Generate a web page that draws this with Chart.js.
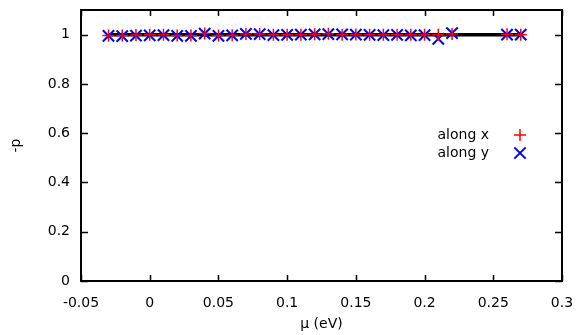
<!DOCTYPE html>
<html>
<head>
<meta charset="utf-8">
<script src="https://cdn.jsdelivr.net/npm/chart.js@4.4.1/dist/chart.umd.min.js"></script>
<style>
  html, body { margin: 0; padding: 0; background: #fff; }
  .chart-container { width: 584px; height: 335px; }
</style>
</head>
<body>
<div class="chart-container">
  <canvas id="chart" width="584" height="335"></canvas>
</div>
<script>
// chemical potential (eV)
const mu = [-0.03, -0.02, -0.01, 0, 0.01, 0.02, 0.03, 0.04, 0.05, 0.06, 0.07, 0.08, 0.09, 0.1,
  0.11, 0.12, 0.13, 0.14, 0.15, 0.16, 0.17, 0.18, 0.19, 0.2, 0.21, 0.22, 0.26, 0.27];
const alongX = [0.997, 0.997, 0.999, 1.0, 1.0, 0.996, 0.996, 1.005, 0.997, 0.998, 1.003, 1.003, 1.0, 1.0,
  1.0, 1.002, 1.004, 1.0, 1.001, 1.0, 1.0, 1.0, 1.0, 1.0, 1.0, 1.003, 1.002, 1.0];
const alongY = [0.995, 0.994, 0.996, 0.997, 0.998, 0.995, 0.995, 1.004, 0.995, 0.997, 1.003, 1.002, 0.998, 0.999,
  1.0, 1.001, 1.002, 1.001, 1.0, 0.999, 0.998, 0.999, 0.997, 0.998, 0.983, 1.006, 1.0, 1.0];
const refLineX = [-0.03, 0.27];
const refLineY = [1, 1];
const xTicks = [-0.05, 0, 0.05, 0.1, 0.15, 0.2, 0.25, 0.3];
const yTicks = [0, 0.2, 0.4, 0.6, 0.8, 1];

const FONT = "'DejaVu Sans', sans-serif";
Chart.defaults.font.family = FONT;
Chart.defaults.font.size = 14;
Chart.defaults.color = "#000";

const toPts = (xs, ys) => xs.map((x, i) => ({ x: x, y: ys[i] }));
const fmt = v => String(Number(v.toFixed(2)));

// gnuplot-like frame with inward ticks on all four sides
const framePlugin = {
  id: "frame",
  afterDatasetsDraw(chart) {
    const { ctx, chartArea: a, scales } = chart;
    ctx.save();
    ctx.strokeStyle = "#000";
    ctx.lineWidth = 1.5;
    ctx.beginPath();
    xTicks.forEach(v => {
      const px = Math.round(scales.x.getPixelForValue(v)) + 0.5;
      ctx.moveTo(px, a.bottom); ctx.lineTo(px, a.bottom - 6);
      ctx.moveTo(px, a.top); ctx.lineTo(px, a.top + 6);
    });
    yTicks.forEach(v => {
      const py = Math.round(scales.y.getPixelForValue(v)) + 0.5;
      ctx.moveTo(a.left, py); ctx.lineTo(a.left + 7, py);
      ctx.moveTo(a.right, py); ctx.lineTo(a.right - 7, py);
    });
    ctx.stroke();
    ctx.lineWidth = 2;
    ctx.strokeRect(a.left, a.top, a.right - a.left, a.bottom - a.top);
    ctx.restore();
  }
};

// key placed like gnuplot: text right-aligned, sample to the right
const keyPlugin = {
  id: "key",
  afterDraw(chart) {
    const { ctx } = chart;
    const items = [
      { label: "along x", color: "#ff0000", style: "cross" },
      { label: "along y", color: "#0000ff", style: "crossRot" }
    ];
    ctx.save();
    ctx.font = "14px " + FONT;
    ctx.textAlign = "right";
    ctx.textBaseline = "middle";
    items.forEach((it, i) => {
      const y = 135 + i * 18;
      ctx.fillStyle = "#000";
      ctx.fillText(it.label, 489, y);
      ctx.strokeStyle = it.color;
      ctx.lineWidth = it.style === "cross" ? 1.5 : 2;
      Chart.helpers.drawPoint(ctx, {
        pointStyle: it.style,
        radius: it.style === "cross" ? 6 : 8,
        borderWidth: ctx.lineWidth
      }, 520, y);
    });
    ctx.restore();
  }
};

new Chart(document.getElementById("chart"), {
  type: "scatter",
  data: {
    datasets: [
      {
        label: "along x",
        data: toPts(mu, alongX),
        pointStyle: "cross",
        pointRadius: 6,
        pointBorderWidth: 1.5,
        borderColor: "#ff0000",
        backgroundColor: "#ff0000",
        order: 1
      },
      {
        label: "along y",
        data: toPts(mu, alongY),
        pointStyle: "crossRot",
        pointRadius: 8,
        pointBorderWidth: 2,
        borderColor: "#0000ff",
        backgroundColor: "#0000ff",
        order: 2
      },
      {
        label: "fit",
        type: "line",
        data: toPts(refLineX, refLineY),
        borderColor: "#000",
        borderWidth: 3.5,
        pointRadius: 0,
        order: 3
      }
    ]
  },
  options: {
    responsive: false,
    animation: false,
    events: [],
    layout: { padding: { top: 9, right: 22, left: 0, bottom: 0 } },
    plugins: {
      legend: { display: false },
      tooltip: { enabled: false }
    },
    scales: {
      x: {
        type: "linear",
        min: -0.05,
        max: 0.3,
        grid: { display: false, drawTicks: false },
        border: { display: false },
        afterBuildTicks: s => { s.ticks = xTicks.map(v => ({ value: v })); },
        afterFit: s => { s.height = 54; s.paddingLeft = 0; s.paddingRight = 0; },
        ticks: { padding: 14, maxRotation: 0, autoSkip: false, callback: v => fmt(v) },
        title: { display: true, text: "μ (eV)", padding: { top: 0, bottom: 2 } }
      },
      y: {
        min: 0,
        max: 1.1,
        grid: { display: false, drawTicks: false },
        border: { display: false },
        afterBuildTicks: s => { s.ticks = yTicks.map(v => ({ value: v })); },
        afterFit: s => { s.width = 81; s.paddingTop = 0; s.paddingBottom = 0; },
        ticks: { padding: 11, autoSkip: false, callback: v => fmt(v) },
        title: { display: true, text: "-p", padding: { top: 8, bottom: 0 } }
      }
    }
  },
  plugins: [framePlugin, keyPlugin]
});
</script>
</body>
</html>
